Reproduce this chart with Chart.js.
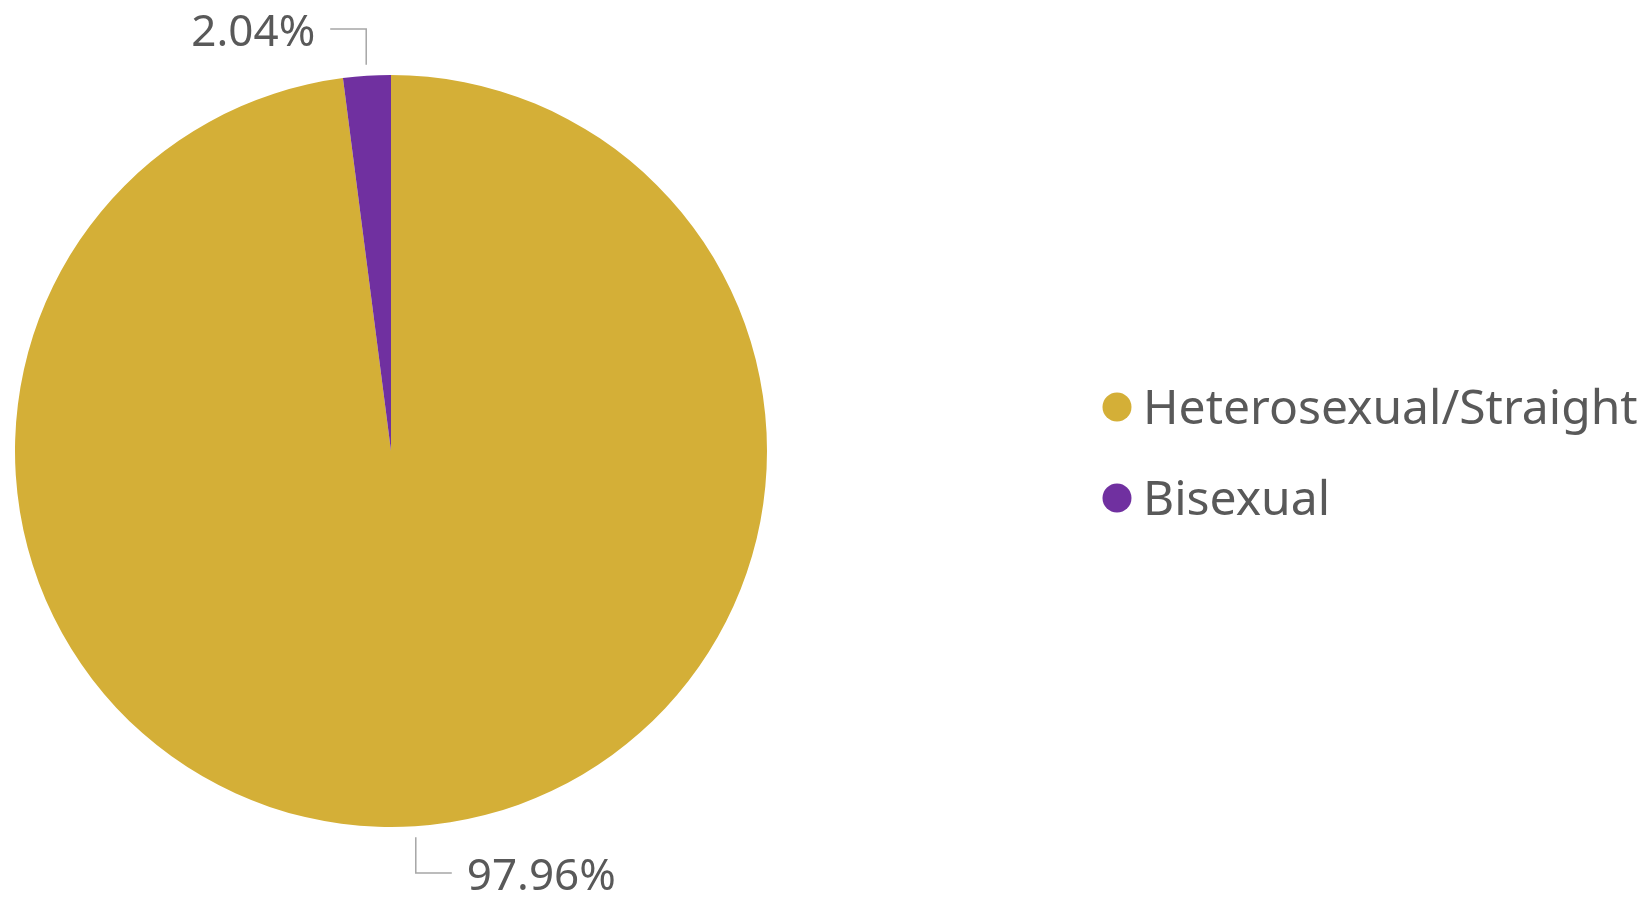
<!DOCTYPE html>
<html>
<head>
<meta charset="utf-8">
<script src="https://cdn.jsdelivr.net/npm/chart.js@4"></script>
<style>
  html, body { margin: 0; padding: 0; background: #fff; }
  #wrap { position: relative; width: 1644px; height: 899px; }
</style>
</head>
<body>
<div id="wrap"><canvas id="chartOrientation"></canvas></div>
<script>
const categories = ['Heterosexual/Straight', 'Bisexual'];
const shares = [97.96, 2.04];
const sliceColors = ['#D4AF37', '#7030A0'];

const textGrey = '#595959';
const fontFamily = '"Noto Sans", "Open Sans", sans-serif';

// percent labels outside the pie, hooked to their slice with an elbow line
const leaderLabels = {
  id: 'leaderLabels',
  afterDatasetsDraw(chart) {
    const ctx = chart.ctx;
    const meta = chart.getDatasetMeta(0);
    ctx.save();
    ctx.strokeStyle = '#a6a6a6';
    ctx.lineWidth = 1.5;
    ctx.fillStyle = textGrey;
    ctx.font = '44px ' + fontFamily;
    ctx.textBaseline = 'alphabetic';
    meta.data.forEach((arc, i) => {
      const { x, y, startAngle, endAngle, outerRadius } = arc.getProps(['x', 'y', 'startAngle', 'endAngle', 'outerRadius'], true);
      const mid = (startAngle + endAngle) / 2;
      const dx = Math.cos(mid), dy = Math.sin(mid);
      const x0 = x + (outerRadius + 11) * dx;
      const y0 = y + (outerRadius + 11) * dy;
      const yElbow = y + Math.sign(dy) * (outerRadius + 46);
      const side = dx < 0 ? -1 : 1;
      const x1 = x0 + side * 36;
      ctx.beginPath();
      ctx.moveTo(x0, y0);
      ctx.lineTo(x0, yElbow);
      ctx.lineTo(x1, yElbow);
      ctx.stroke();
      ctx.textAlign = side < 0 ? 'right' : 'left';
      ctx.fillText(shares[i].toFixed(2) + '%', x1 + side * 15, yElbow + 17);
    });
    ctx.restore();
  }
};

// round-dot legend to the right of the pie
const dotLegend = {
  id: 'dotLegend',
  afterDraw(chart, args, opts) {
    const ctx = chart.ctx;
    ctx.save();
    ctx.font = '48px ' + fontFamily;
    ctx.textAlign = 'left';
    ctx.textBaseline = 'alphabetic';
    chart.data.labels.forEach((label, i) => {
      const cy = opts.top + i * opts.rowGap;
      ctx.fillStyle = chart.data.datasets[0].backgroundColor[i];
      ctx.beginPath();
      ctx.arc(opts.left, cy, 14.5, 0, Math.PI * 2);
      ctx.fill();
      ctx.fillStyle = textGrey;
      ctx.fillText(label, opts.left + 26, cy + 17);
    });
    ctx.restore();
  }
};

const orientation = new Chart(
  document.getElementById('chartOrientation'),
  {
    type: 'pie',
    data: {
      labels: categories,
      datasets: [{
        data: shares,
        backgroundColor: sliceColors,
        borderWidth: 0
      }]
    },
    options: {
      responsive: true,
      maintainAspectRatio: false,
      animation: false,
      layout: {
        padding: { left: 15, top: 75, bottom: 72, right: 877 }
      },
      plugins: {
        legend: { display: false },
        tooltip: { enabled: false },
        dotLegend: { left: 1117, top: 407, rowGap: 91 }
      }
    },
    plugins: [leaderLabels, dotLegend]
  });
</script>
</body>
</html>
